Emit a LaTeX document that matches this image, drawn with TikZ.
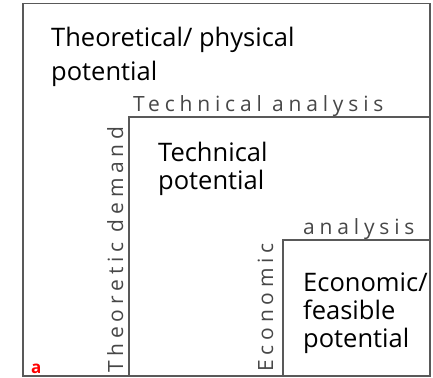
\documentclass[tikz,border=0pt]{standalone}
\usepackage{fontspec}
\setmainfont{Open Sans}
\newfontfamily\lblfont[LetterSpace=23]{Open Sans}
\begin{document}
\begin{tikzpicture}[x=1pt,y=1pt,
  frame/.style={draw=black!65,line width=1.6pt},
  maintext/.style={anchor=base west,inner sep=0pt,font=\fontsize{25.5}{28}\selectfont,text=black},
  lbltext/.style={anchor=base west,inner sep=0pt,font=\lblfont\fontsize{21}{24}\selectfont,text=black!72},
  redmark/.style={anchor=base west,inner sep=0pt,font=\bfseries\fontsize{17}{18}\selectfont,text=red}]
\useasboundingbox (0,0) rectangle (433,377);
% frames
\draw[frame] (23,1) rectangle (430,373.5);
\draw[frame] (129,1) -- (129,260) -- (430,260);
\draw[frame] (283,1) -- (283,137) -- (430,137);
% texts
\node[maintext] (t1) at (51,330) {Theoretical/ physical};
\node[maintext] (t2) at (51,296) {potential};
\node[maintext] (m1) at (158,215) {Technical};
\node[maintext] (m2) at (158,187) {potential};
\node[maintext] (e1) at (303,85) {Economic/};
\node[maintext] (e2) at (303,57) {feasible};
\node[maintext] (e3) at (303,30) {potential};
\node[lbltext] (la) at (133,265) {Technical analysis};
\node[lbltext] (lb) at (303,142) {analysis};
\node[lbltext,rotate=90] (lc) at (123,4) {Theoretic demand};
\node[lbltext,rotate=90] (ld) at (273,5) {Economic};
\node[redmark] (a) at (31,3.5) {a};
\end{tikzpicture}
\end{document}
